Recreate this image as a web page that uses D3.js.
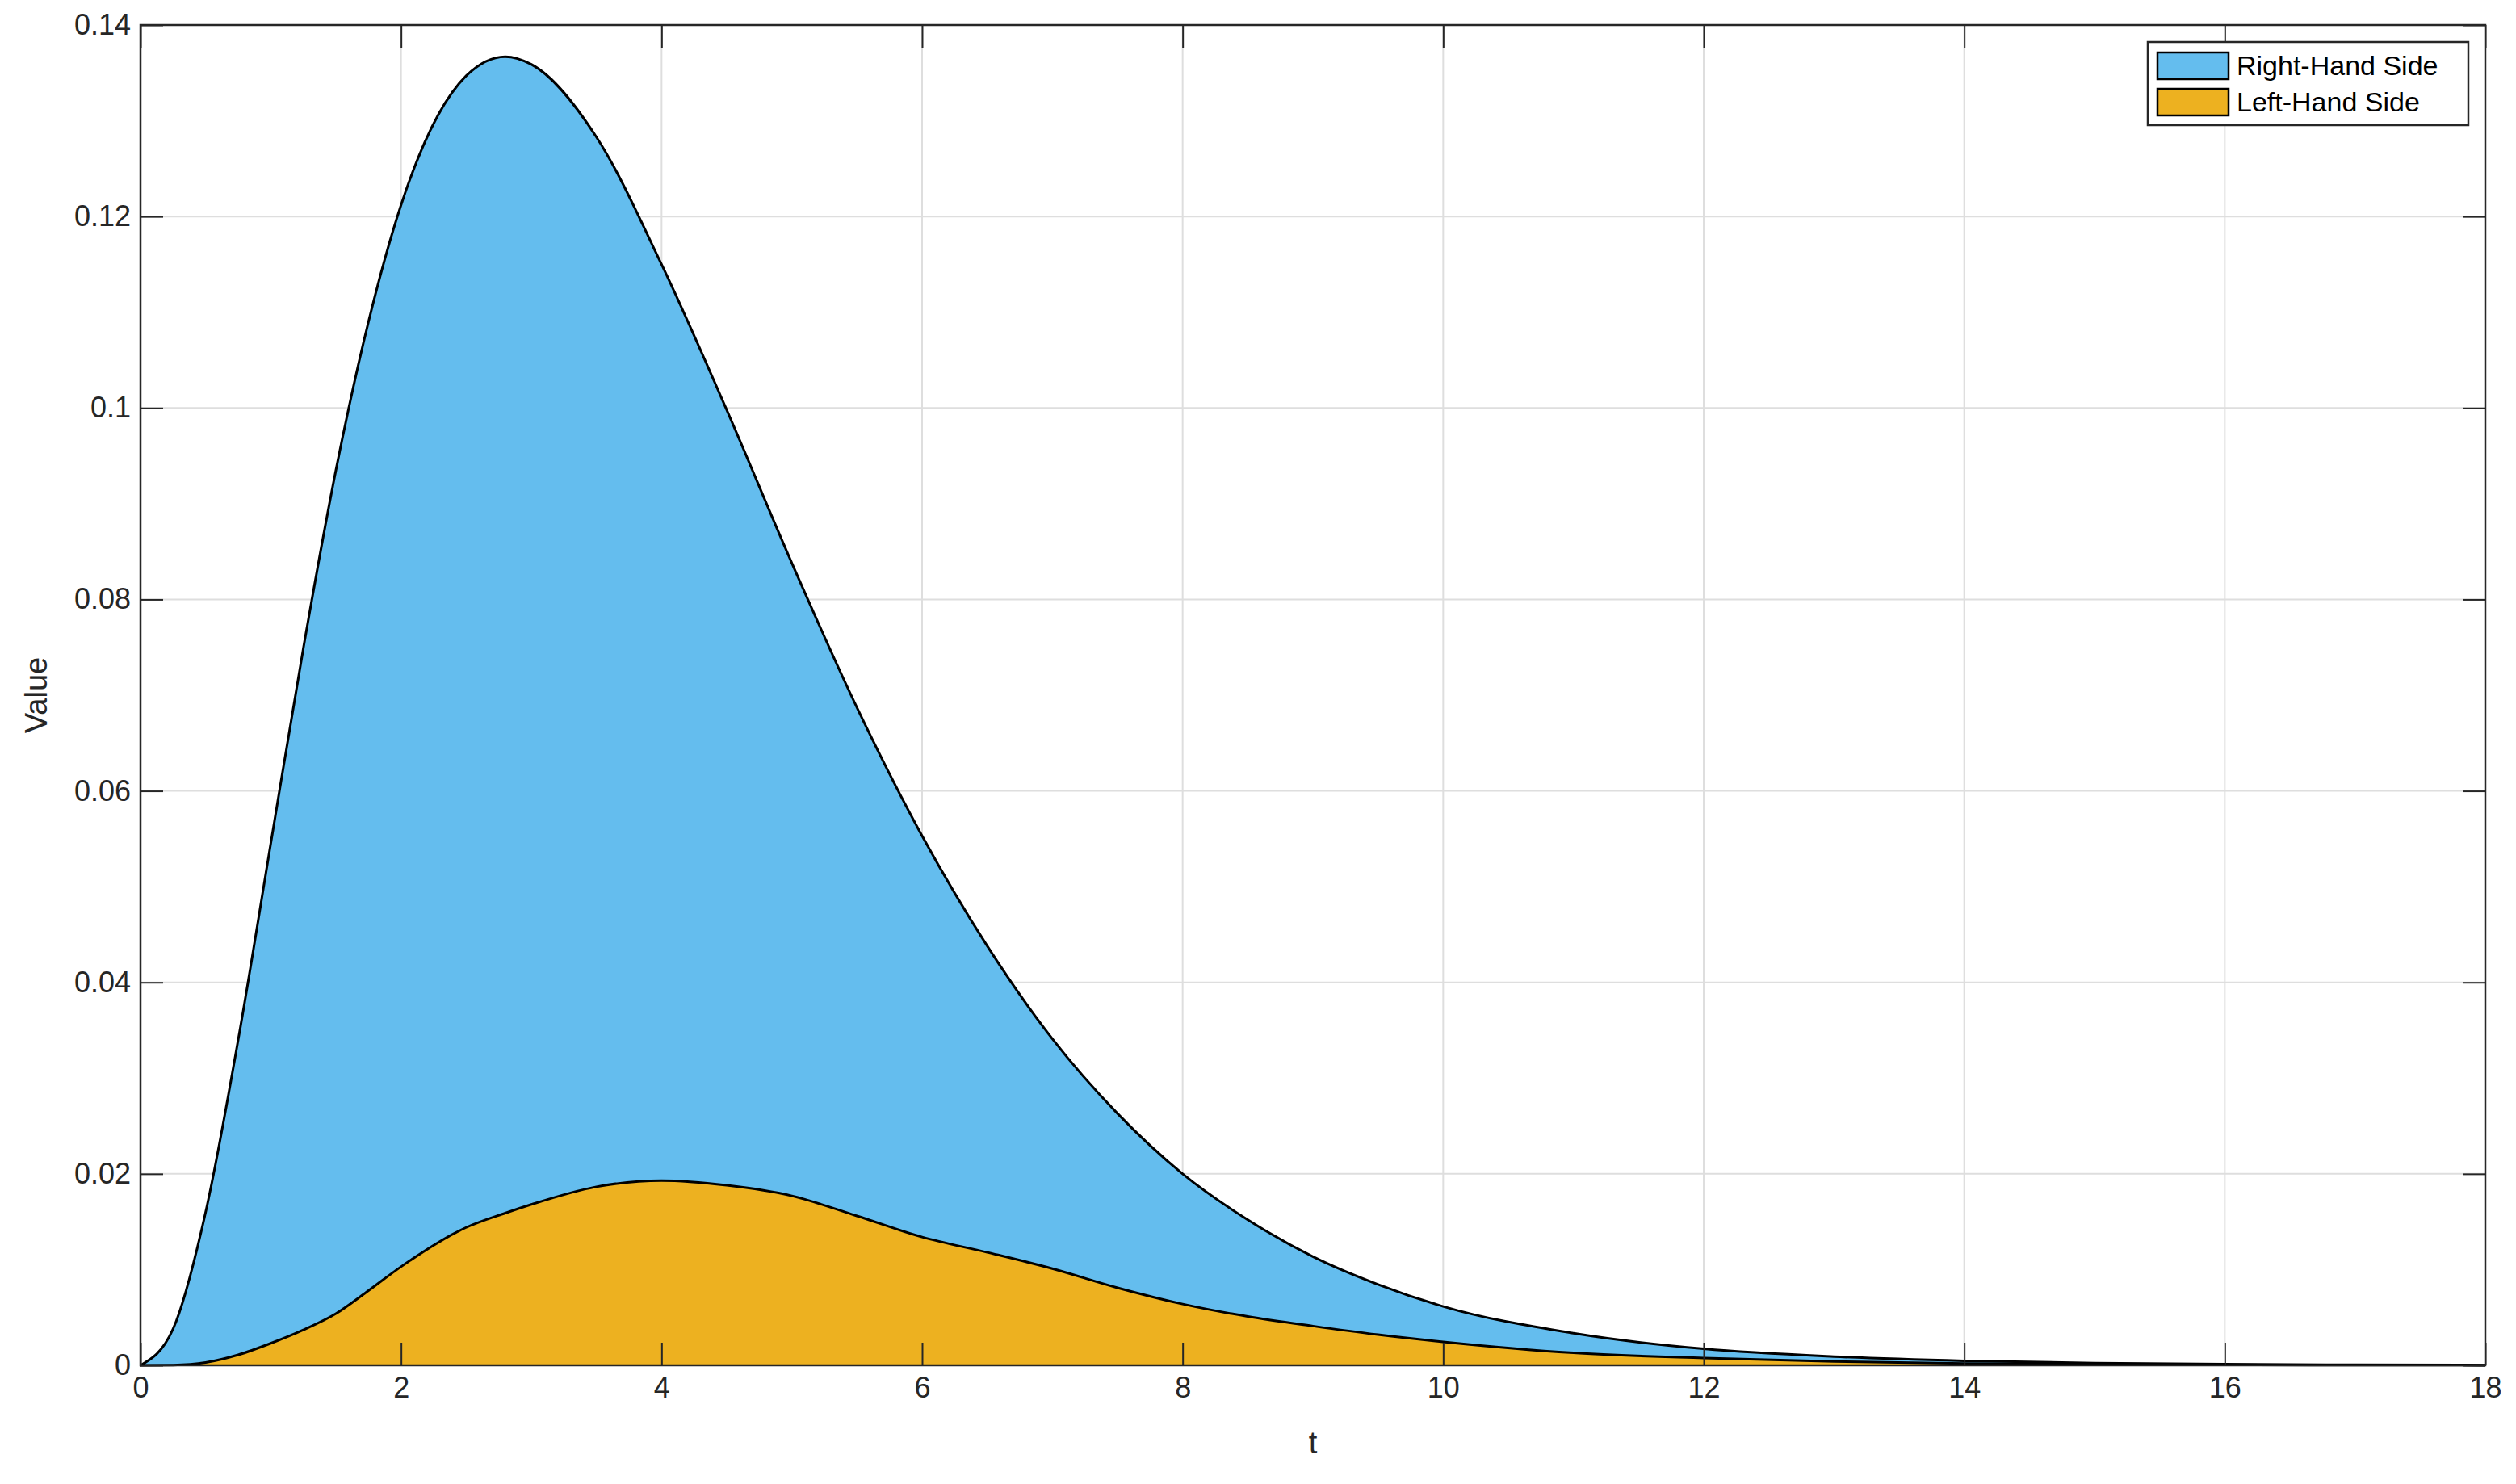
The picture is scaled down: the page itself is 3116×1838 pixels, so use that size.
<!DOCTYPE html>
<html><head><meta charset="utf-8">
<script src="https://cdn.jsdelivr.net/npm/d3@7"></script>
<style>body{margin:0;background:#fff}svg{display:block}text{font-family:"Liberation Sans",Arial,sans-serif}</style>
</head><body>
<script>
const tValues = [0,0.25,0.5,0.75,1,1.25,1.5,1.75,2,2.5,2.8,3,3.5,4,4.5,5,5.5,6,6.5,7,7.5,8,8.5,9,9.5,10,11,12,13,14,15,16,17,18];
const rhsValues = [0,0.0038,0.0160,0.0340,0.0545,0.0749,0.0935,0.1090,0.1212,0.1347,0.1367,0.1359,0.1283,0.1150,0.0998,0.0838,0.0687,0.0553,0.0438,0.0341,0.0263,0.0200,0.0152,0.01136,0.00845,0.00615,0.00335,0.00172,0.00091,0.00047,0.00024,0.00012,0.00006,0.00003];
const lhsValues = [0,0.00003,0.0003,0.0011,0.0023,0.0037,0.0054,0.0078,0.0103,0.0144,0.0159,0.0168,0.01865,0.0193,0.0188,0.0177,0.0156,0.0134,0.0118,0.0101,0.0081,0.0064,0.0051,0.0041,0.0032,0.00245,0.0013,0.00076,0.0004,0.0002,0.0001,0.00005,0.00002,0.00001];
const xTicks = [0,2,4,6,8,10,12,14,16,18];
const yTicks = [0,0.02,0.04,0.06,0.08,0.1,0.12,0.14];
const seriesNames = ["Right-Hand Side","Left-Hand Side"];
const seriesColors = ["#64BDEE","#EDB120"];

const W=3116,H=1838, L=174,R=3078,T=31,B=1691;
const svg=d3.select("body").append("svg").attr("width",W).attr("height",H);
const x=d3.scaleLinear().domain([0,18]).range([L,R]);
const y=d3.scaleLinear().domain([0,0.14]).range([B,T]);

// grid
svg.append("g").selectAll("line").data(xTicks.slice(1,-1)).join("line")
 .attr("x1",d=>x(d)).attr("x2",d=>x(d)).attr("y1",T).attr("y2",B).attr("stroke","#dedede").attr("stroke-width",2);
svg.append("g").selectAll("line").data(yTicks.slice(1,-1)).join("line")
 .attr("y1",d=>y(d)).attr("y2",d=>y(d)).attr("x1",L).attr("x2",R).attr("stroke","#dedede").attr("stroke-width",2);

const pts=(vals)=>tValues.map((t,i)=>[t,vals[i]]);
const area=d3.area().x(d=>x(d[0])).y0(y(0)).y1(d=>y(d[1])).curve(d3.curveMonotoneX);
const line=d3.line().x(d=>x(d[0])).y(d=>y(d[1])).curve(d3.curveMonotoneX);
[[rhsValues,0],[lhsValues,1]].forEach(([v,i])=>{
  svg.append("path").attr("d",area(pts(v))).attr("fill",seriesColors[i]);
  svg.append("path").attr("d",line(pts(v))).attr("fill","none").attr("stroke","#000").attr("stroke-width",3);
});

// axes
const tl=28, ax="#262626";
const fs=36;
svg.append("g").attr("transform",`translate(0,${B})`).call(d3.axisBottom(x).tickValues(xTicks).tickSize(-tl).tickPadding(14).tickFormat(d3.format("d")))
 .call(g=>{g.select(".domain").remove();g.selectAll("line").attr("stroke",ax).attr("stroke-width",2);g.selectAll("text").attr("font-size",fs).attr("fill",ax).attr("font-family","Liberation Sans, Arial");});
svg.append("g").attr("transform",`translate(0,${T})`).call(d3.axisTop(x).tickValues(xTicks).tickSize(-tl).tickFormat(""))
 .call(g=>{g.select(".domain").remove();g.selectAll("line").attr("stroke",ax).attr("stroke-width",2);});
svg.append("g").attr("transform",`translate(${L},0)`).call(d3.axisLeft(y).tickValues(yTicks).tickSize(-tl).tickPadding(12).tickFormat(d=>d===0?"0":d3.format("")(+d.toFixed(2))))
 .call(g=>{g.select(".domain").remove();g.selectAll("line").attr("stroke",ax).attr("stroke-width",2);g.selectAll("text").attr("font-size",fs).attr("fill",ax).attr("font-family","Liberation Sans, Arial");});
svg.append("g").attr("transform",`translate(${R},0)`).call(d3.axisRight(y).tickValues(yTicks).tickSize(-tl).tickFormat(""))
 .call(g=>{g.select(".domain").remove();g.selectAll("line").attr("stroke",ax).attr("stroke-width",2);});
svg.append("rect").attr("x",L).attr("y",T).attr("width",R-L).attr("height",B-T).attr("fill","none").attr("stroke",ax).attr("stroke-width",2.5);

svg.append("text").attr("x",(L+R)/2).attr("y",1800).attr("text-anchor","middle").attr("font-size",38).attr("fill",ax).text("t");
svg.append("text").attr("transform",`translate(58,${(T+B)/2}) rotate(-90)`).attr("text-anchor","middle").attr("font-size",38).attr("fill",ax).text("Value");

// legend
const lg=svg.append("g");
lg.append("rect").attr("x",2660).attr("y",52).attr("width",397).attr("height",103).attr("fill","#fff").attr("stroke",ax).attr("stroke-width",2.5);
seriesNames.forEach((n,i)=>{
  lg.append("rect").attr("x",2672).attr("y",65+i*45).attr("width",88).attr("height",33).attr("fill",seriesColors[i]).attr("stroke","#000").attr("stroke-width",2.5);
  lg.append("text").attr("x",2770).attr("y",93+i*45).attr("font-size",34).attr("fill","#000").text(n);
});
</script>
</body></html>
